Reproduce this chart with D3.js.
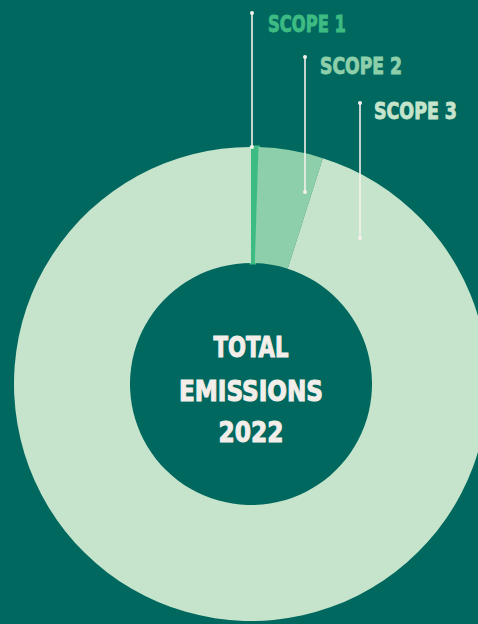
<!DOCTYPE html>
<html><head><meta charset="utf-8">
<script src="https://cdn.jsdelivr.net/npm/d3@7"></script>
<style>html,body{margin:0;padding:0;background:#00685e;overflow:hidden}</style>
</head><body>
<svg id="c" width="478" height="624"></svg>
<script>
const categories = ["SCOPE 1", "SCOPE 2", "SCOPE 3"];
const values = [0.5, 4.4, 95.1];
const colors = ["#3dbb83", "#8ccfaa", "#c5e4cb"];
const centerLines = ["TOTAL", "EMISSIONS", "2022"];

const W = 478, H = 624;
const svg = d3.select("#c");
svg.append("rect").attr("width", W).attr("height", H).attr("fill", "#00685e");

const cx = 251, cy = 384, R = 237, r = 121;
const g = svg.append("g").attr("transform", `translate(${cx},${cy})`);
const pie = d3.pie().sort(null).value(d => d)(values);
const arc = d3.arc().innerRadius(r).outerRadius(R);
const color = d3.scaleOrdinal().domain(categories).range(colors);

g.selectAll("path").data(pie).join("path")
  .attr("d", arc)
  .attr("fill", (d, i) => color(categories[i]))
  .attr("stroke", (d, i) => i === 0 ? color(categories[i]) : "none")
  .attr("stroke-width", (d, i) => i === 0 ? 3 : 0);

// leader annotations: [x offset from center, top y, bottom y, label x, label baseline]
const ann = [
  {dx: 1, y0: 13, y1: 147, lx: 268, ly: 32, lw: 78},
  {dx: 54, y0: 57, y1: 192, lx: 320, ly: 74, lw: 82},
  {dx: 109, y0: 103, y1: 238, lx: 374, ly: 119, lw: 83}
];
ann.forEach((a, i) => {
  const x = cx + a.dx;
  svg.append("line").attr("x1", x).attr("x2", x).attr("y1", a.y0).attr("y2", a.y1)
    .attr("stroke", "#f4f0ea").attr("stroke-width", 1.6);
  svg.append("circle").attr("cx", x).attr("cy", a.y0).attr("r", 2).attr("fill", "#f4f0ea");
  svg.append("circle").attr("cx", x).attr("cy", a.y1).attr("r", 2).attr("fill", "#f4f0ea");
  svg.append("text").attr("x", a.lx).attr("y", a.ly)
    .attr("font-family", "'DejaVu Sans Condensed', 'DejaVu Sans'")
    .attr("font-weight", "bold").attr("font-size", 23)
    .attr("textLength", a.lw).attr("lengthAdjust", "spacingAndGlyphs")
    .attr("stroke", color(categories[i])).attr("stroke-width", 0.9)
    .attr("fill", color(categories[i])).text(categories[i]);
});

const cw = [75, 144, 65], cb = [357, 401, 442];
centerLines.forEach((t, i) => {
  svg.append("text").attr("x", cx).attr("y", cb[i]).attr("text-anchor", "middle")
    .attr("font-family", "'DejaVu Sans Condensed', 'DejaVu Sans'")
    .attr("font-weight", "bold").attr("font-size", 28)
    .attr("textLength", cw[i]).attr("lengthAdjust", "spacingAndGlyphs")
    .attr("stroke", "#f3eee9").attr("stroke-width", 1)
    .attr("fill", "#f3eee9").text(t);
});
</script>
</body></html>
